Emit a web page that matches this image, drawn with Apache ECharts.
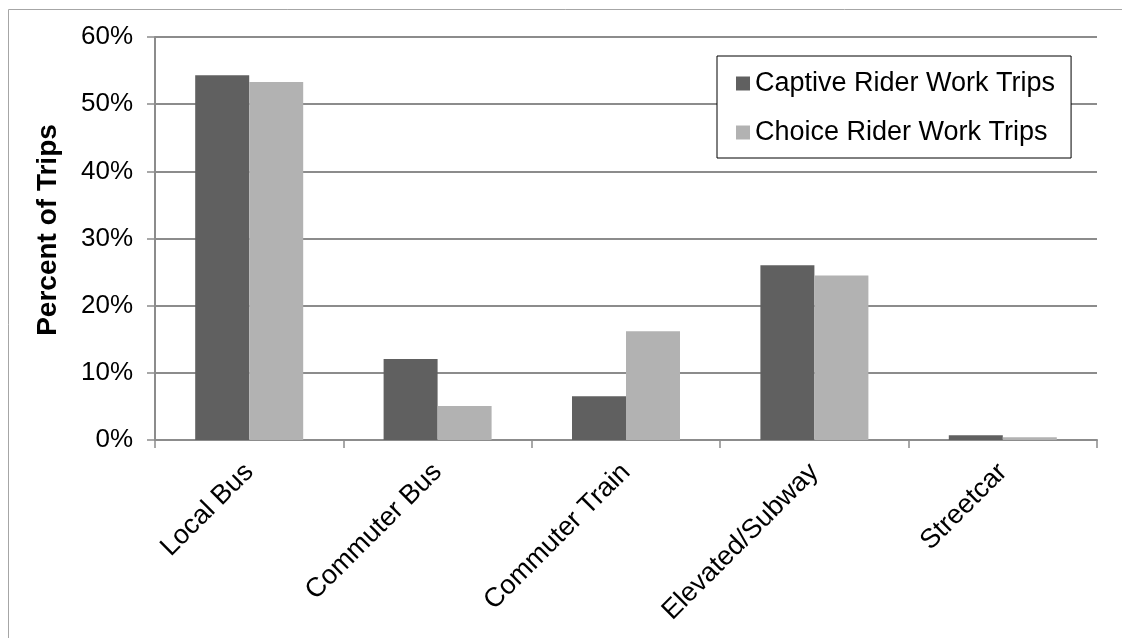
<!DOCTYPE html>
<html>
<head>
<meta charset="utf-8">
<script src="https://cdn.jsdelivr.net/npm/echarts@6/dist/echarts.min.js"></script>
<style>
html,body{margin:0;padding:0;background:#fff;}
#chart{width:1122px;height:638px;}
</style>
</head>
<body>
<div id="chart"></div>
<script>
var categories = ['Local Bus', 'Commuter Bus', 'Commuter Train', 'Elevated/Subway', 'Streetcar'];
var seriesNames = ['Captive Rider Work Trips', 'Choice Rider Work Trips'];
var captiveValues = [54.3, 12.05, 6.5, 26.0, 0.7];
var choiceValues = [53.3, 5.06, 16.2, 24.5, 0.4];
var yTicks = [0, 10, 20, 30, 40, 50, 60];
var yTitle = 'Percent of Trips';

var FONT = '"Liberation Sans", Arial, sans-serif';
var chart = echarts.init(document.getElementById('chart'), null, {renderer: 'canvas'});
chart.setOption({
  animation: false,
  backgroundColor: '#ffffff',
  graphic: [{
    type: 'rect',
    shape: {x: 8.5, y: 9.5, width: 1130, height: 700},
    style: {fill: 'none', stroke: '#a6a6a6', lineWidth: 1},
    z: -10
  }, {
    type: 'text',
    x: 48,
    y: 230,
    rotation: Math.PI / 2,
    style: {
      text: yTitle,
      fontFamily: FONT,
      fontSize: 28,
      fontWeight: 'bold',
      fill: '#000000',
      align: 'center',
      verticalAlign: 'middle'
    }
  }],
  grid: {left: 155, right: 25, top: 37, bottom: 198, containLabel: false},
  legend: {
    orient: 'vertical',
    left: 717,
    top: 56,
    padding: [14, 16, 12, 19],
    itemGap: 22,
    itemWidth: 14,
    itemHeight: 14,
    icon: 'rect',
    borderColor: '#000000',
    borderWidth: 1,
    backgroundColor: '#ffffff',
    textStyle: {fontFamily: FONT, fontSize: 27, color: '#000000'},
    data: seriesNames
  },
  xAxis: {
    type: 'category',
    data: categories,
    boundaryGap: true,
    axisLine: {show: true, lineStyle: {color: '#8c8c8c', width: 2}},
    axisTick: {show: true, length: 8, lineStyle: {color: '#8c8c8c', width: 1.5}},
    axisLabel: {rotate: 45, margin: 28, fontFamily: FONT, fontSize: 27, color: '#000000', interval: 0},
    splitLine: {show: false}
  },
  yAxis: {
    type: 'value',
    min: yTicks[0],
    max: yTicks[yTicks.length - 1],
    interval: 10,
    axisLine: {show: true, lineStyle: {color: '#8c8c8c', width: 2}},
    axisTick: {show: true, length: 8, lineStyle: {color: '#8c8c8c', width: 1.5}},
    axisLabel: {margin: 22, fontFamily: FONT, fontSize: 26, color: '#000000', formatter: function (v) { return v + '%'; }},
    splitLine: {show: true, lineStyle: {color: '#8c8c8c', width: 2}}
  },
  series: [{
    name: seriesNames[0],
    type: 'bar',
    data: captiveValues,
    barWidth: 54,
    barGap: '0%',
    itemStyle: {color: '#606060'}
  }, {
    name: seriesNames[1],
    type: 'bar',
    data: choiceValues,
    barWidth: 54,
    barGap: '0%',
    itemStyle: {color: '#b2b2b2'}
  }]
});
</script>
</body>
</html>
